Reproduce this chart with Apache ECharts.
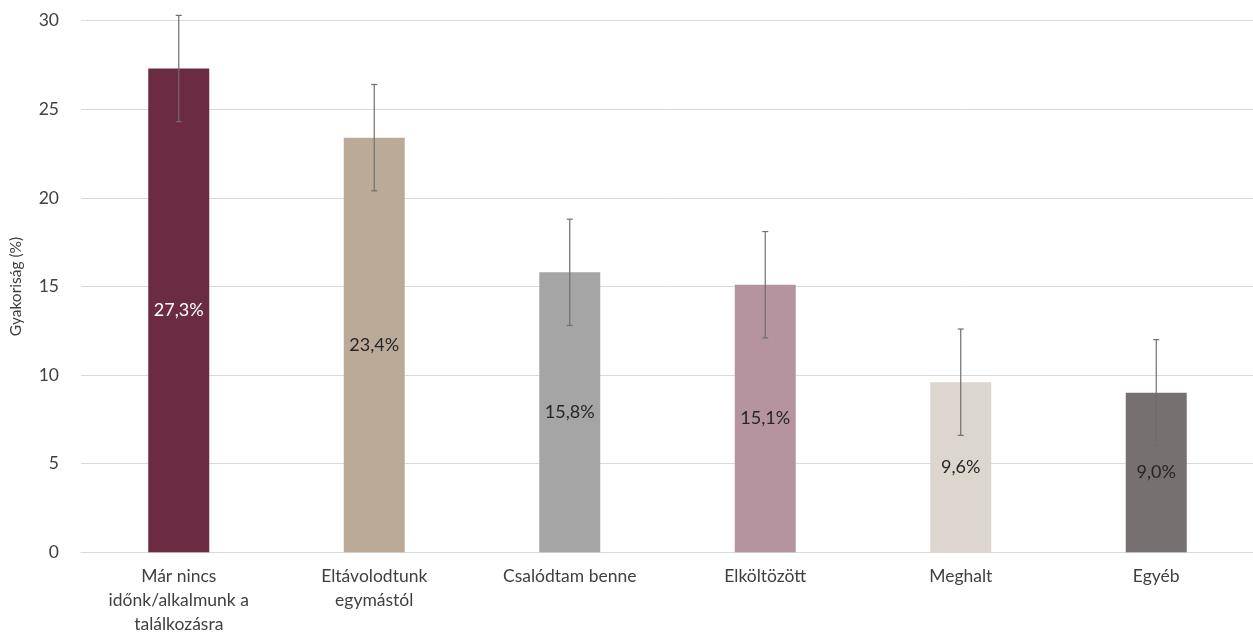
<!DOCTYPE html>
<html>
<head>
<meta charset="utf-8">
<script src="https://cdn.jsdelivr.net/npm/echarts@6/dist/echarts.min.js"></script>
<style>html,body{margin:0;padding:0;background:#fff;}#chart{width:1253px;height:644px;}</style>
</head>
<body>
<div id="chart"></div>
<script>
const categories = ['Már nincs\nidőnk/alkalmunk a\ntalálkozásra', 'Eltávolodtunk\negymástól', 'Csalódtam benne', 'Elköltözött', 'Meghalt', 'Egyéb'];
const values = [27.3, 23.4, 15.8, 15.1, 9.6, 9.0];
const errLow = [24.3, 20.4, 12.8, 12.1, 6.6, 6.0];
const errHigh = [30.3, 26.4, 18.8, 18.1, 12.6, 12.0];
const barColors = ['#6B2C43', '#BCAA99', '#A5A5A5', '#B5939F', '#DDD6CF', '#767070'];
const labelColors = ['#FFFFFF', '#262626', '#262626', '#262626', '#262626', '#262626'];
const yTicks = [0, 5, 10, 15, 20, 25, 30];

const font = 'Lato, "Open Sans", sans-serif';
const chart = echarts.init(document.getElementById('chart'));
chart.setOption({
  animation: false,
  grid: { left: 81, top: 20.7, width: 1173, bottom: 91.7, containLabel: false, outerBoundsMode: 'none' },
  xAxis: {
    type: 'category',
    data: categories,
    axisLine: { show: true, lineStyle: { color: '#D9D9D9', width: 1 } },
    axisTick: { show: false },
    axisLabel: { color: '#404040', fontSize: 17.5, fontFamily: font, margin: 12, lineHeight: 24, interval: 0 }
  },
  yAxis: {
    type: 'value',
    min: yTicks[0], max: yTicks[yTicks.length - 1], interval: 5,
    name: 'Gyakoriság (%)',
    nameLocation: 'middle',
    nameGap: 57,
    nameTextStyle: { color: '#404040', fontSize: 15.5, fontFamily: font },
    axisLine: { show: false },
    axisTick: { show: false },
    axisLabel: { color: '#404040', fontSize: 17.5, fontFamily: font, margin: 22 },
    splitLine: { lineStyle: { color: '#D9D9D9', width: 1 } }
  },
  series: [
    {
      type: 'bar',
      barWidth: 61,
      data: values.map((v, i) => ({
        value: v,
        itemStyle: { color: barColors[i] },
        label: { color: labelColors[i] }
      })),
      label: {
        show: true,
        position: 'inside',
        fontSize: 18,
        fontFamily: font,
        formatter: p => p.value.toFixed(1).replace('.', ',') + '%'
      },
      z: 2
    },
    {
      type: 'custom',
      data: values.map((v, i) => [i, errLow[i], errHigh[i]]),
      renderItem: function (params, api) {
        const x = api.value(0);
        const lo = api.coord([x, api.value(1)]);
        const hi = api.coord([x, api.value(2)]);
        const hw = 3;
        const style = { stroke: '#6E6E6E', lineWidth: 1.2 };
        return {
          type: 'group',
          children: [
            { type: 'line', shape: { x1: hi[0], y1: hi[1], x2: lo[0], y2: lo[1] }, style: style },
            { type: 'line', shape: { x1: hi[0] - hw, y1: hi[1], x2: hi[0] + hw, y2: hi[1] }, style: style },
            { type: 'line', shape: { x1: lo[0] - hw, y1: lo[1], x2: lo[0] + hw, y2: lo[1] }, style: style }
          ]
        };
      },
      z: 5
    }
  ]
});
</script>
</body>
</html>
